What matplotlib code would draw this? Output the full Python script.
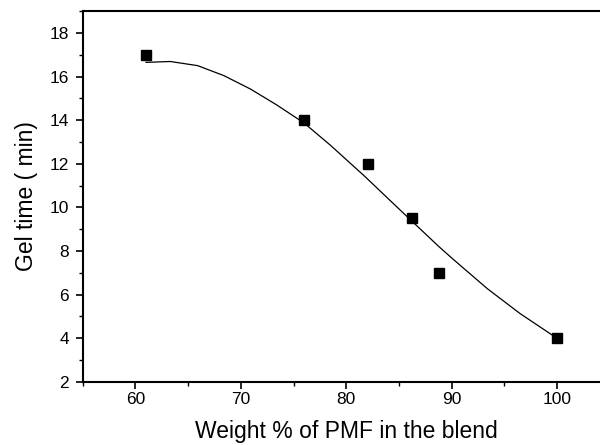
import matplotlib
matplotlib.use("Agg")
import matplotlib.pyplot as plt
from matplotlib.ticker import MultipleLocator

plt.rcParams['font.family'] = ['Liberation Sans', 'DejaVu Sans']

# measured points
pmf_wt = [61, 76, 82.1, 86.2, 88.8, 100]
gel_time = [17.0, 14.0, 12.0, 9.5, 7.0, 4.0]

# fitted curve
fit_x = [61, 63.3, 65.9, 68.4, 70.9, 73.4, 76.0, 78.5, 81.7, 84.2, 86.1,
         88.8, 90.2, 93.4, 96.5, 100]
fit_y = [16.65, 16.69, 16.5, 16.04, 15.43, 14.7, 13.87, 12.85, 11.45, 10.3,
         9.43, 8.2, 7.6, 6.27, 5.13, 4.0]

x_ticks = [60, 70, 80, 90, 100]
y_ticks = [2, 4, 6, 8, 10, 12, 14, 16, 18]

fig = plt.figure(figsize=(6, 4.45), dpi=100)
ax = fig.add_axes([0.138, 0.142, 0.878, 0.833])

ax.plot(fit_x, fit_y, color='black', lw=0.9)
ax.plot(pmf_wt, gel_time, 's', color='black', ms=7)

ax.set_xlim(55, 105)
ax.set_ylim(2, 19)
ax.set_xticks(x_ticks)
ax.set_yticks(y_ticks)
ax.xaxis.set_minor_locator(MultipleLocator(5))
ax.yaxis.set_minor_locator(MultipleLocator(1))
ax.tick_params(which='major', length=5, width=1.2, labelsize=12.5, pad=2, direction='out')
ax.tick_params(axis='y', which='major', pad=5)
ax.tick_params(which='minor', length=3, width=1.0, direction='out')
ax.tick_params(top=False, right=False, which='both')
for s in ax.spines.values():
    s.set_linewidth(1.5)

ax.set_xlabel('Weight % of PMF in the blend', fontsize=16.5, labelpad=10)
ax.set_ylabel('Gel time ( min)', fontsize=16.5, labelpad=8)

fig.savefig('out.png', dpi=100)
